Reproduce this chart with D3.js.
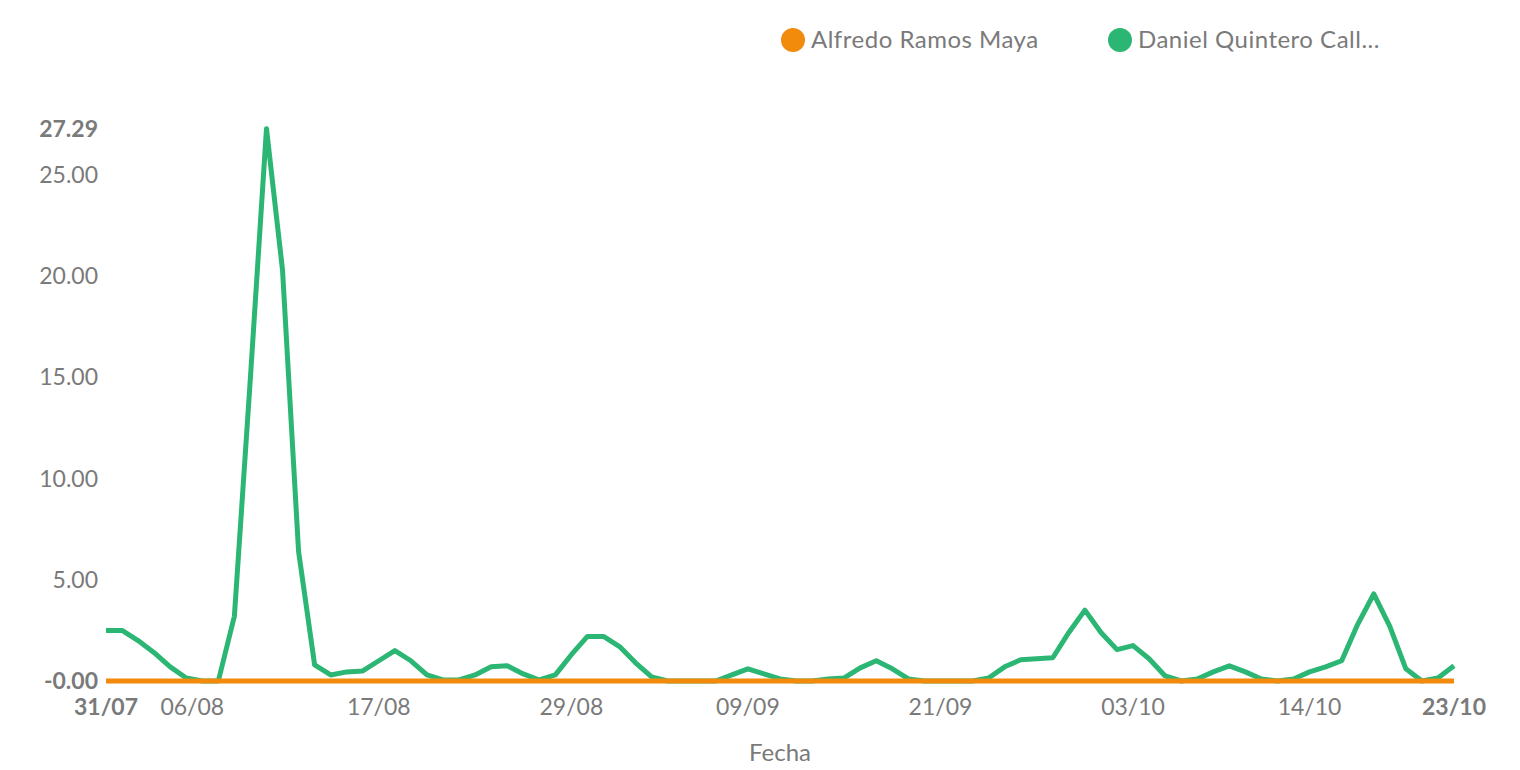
<!DOCTYPE html>
<html><head><meta charset="utf-8">
<script src="https://cdn.jsdelivr.net/npm/d3@7"></script>
<style>body{margin:0;background:#fff;font-family:Lato,"Noto Sans",sans-serif}</style>
</head><body><div id="chart"></div>
<script>
const startDate = new Date(2023, 6, 31);
const seriesNames = ['Alfredo Ramos Maya', 'Daniel Quintero Call...'];
const seriesColors = ['#f28a0c', '#2bb673'];
const daniel = [2.5,2.5,2.0,1.4,0.7,0.15,0,0,3.2,15,27.29,20.3,6.4,0.8,0.3,0.45,0.5,1.0,1.5,1.0,
  0.3,0.05,0.05,0.3,0.7,0.75,0.35,0.05,0.3,1.3,2.2,2.2,1.7,0.9,0.2,0,0,0,0,0.3,
  0.6,0.35,0.1,0,0,0.1,0.15,0.65,1.0,0.6,0.1,0,0,0,0,0.15,0.7,1.05,1.1,1.15,
  2.4,3.5,2.4,1.55,1.75,1.1,0.25,0,0.1,0.45,0.75,0.45,0.1,0,0.1,0.45,0.7,1.0,2.8,4.3,
  2.7,0.6,0,0.15,0.75];
const alfredo = daniel.map(() => 0);
const yTicks = [5, 10, 15, 20, 25];
const xTickDays = [6, 17, 29, 40, 52, 64, 75];
const fmt = d3.timeFormat('%d/%m');
const dates = daniel.map((_, i) => d3.timeDay.offset(startDate, i));

const W = 1520, H = 770;
const svg = d3.select('#chart').append('svg').attr('width', W).attr('height', H);
const x = d3.scaleTime().domain([dates[0], dates[dates.length - 1]]).range([106, 1454]);
const y = d3.scaleLinear().domain([0, 25]).range([681, 175]);
const grey = '#7a7a7a';

// y labels
svg.selectAll('.yt').data(yTicks).join('text')
  .attr('x', 98).attr('y', d => y(d) + 8).attr('text-anchor', 'end')
  .attr('fill', grey).attr('font-size', 23).text(d => d.toFixed(2));
svg.append('text').attr('x', 98).attr('y', y(27.29) + 8).attr('text-anchor', 'end')
  .attr('fill', grey).attr('font-size', 23).attr('font-weight', 'bold').text('27.29');
svg.append('text').attr('x', 98).attr('y', y(0) + 8).attr('text-anchor', 'end')
  .attr('fill', grey).attr('font-size', 23).attr('font-weight', 'bold').text('-0.00');

// x labels
svg.selectAll('.xt').data(xTickDays).join('text')
  .attr('x', d => x(dates[d]) - (d === 6 ? 10 : 0)).attr('y', 715).attr('text-anchor', 'middle')
  .attr('fill', grey).attr('font-size', 23).text(d => fmt(dates[d]));
svg.append('text').attr('x', x(dates[0])).attr('y', 715).attr('text-anchor', 'middle')
  .attr('fill', grey).attr('font-size', 23).attr('font-weight', 'bold').text(fmt(dates[0]));
svg.append('text').attr('x', x(dates[dates.length - 1])).attr('y', 715).attr('text-anchor', 'middle')
  .attr('fill', grey).attr('font-size', 23).attr('font-weight', 'bold').text(fmt(dates[dates.length - 1]));
svg.append('text').attr('x', 780).attr('y', 761).attr('text-anchor', 'middle')
  .attr('fill', grey).attr('font-size', 24).text('Fecha');

const line = d3.line().x((d, i) => x(dates[i])).y(d => y(d));
svg.append('path').datum(daniel).attr('fill', 'none').attr('stroke', seriesColors[1])
  .attr('stroke-width', 5).attr('stroke-linejoin', 'round').attr('d', line);
svg.append('path').datum(alfredo).attr('fill', 'none').attr('stroke', seriesColors[0])
  .attr('stroke-width', 5).attr('d', line);

// legend
const legX = [793, 1120];
seriesNames.forEach((n, i) => {
  svg.append('circle').attr('cx', legX[i]).attr('cy', 40).attr('r', 12).attr('fill', seriesColors[i]);
  svg.append('text').attr('x', legX[i] + 18).attr('y', 48).attr('fill', grey)
    .attr('font-size', 24).attr('letter-spacing', 0.5).text(n);
});
</script></body></html>
